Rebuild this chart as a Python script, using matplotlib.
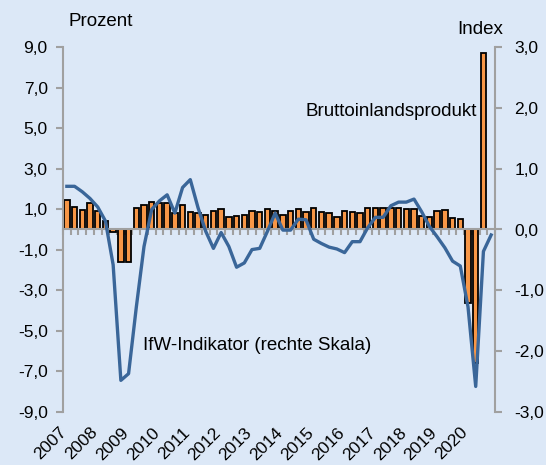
import numpy as np
import matplotlib
matplotlib.use('Agg')
import matplotlib.pyplot as plt
import matplotlib.transforms as mtransforms

plt.rcParams['font.family'] = ['Liberation Sans', 'DejaVu Sans']

# Jahre (Beschriftung der x-Achse)
years = ['2007', '2008', '2009', '2010', '2011', '2012', '2013',
         '2014', '2015', '2016', '2017', '2018', '2019', '2020']

# Bruttoinlandsprodukt, Prozent (linke Skala), 2007Q1 - 2020Q3
bip = [1.45, 1.1, 0.95, 1.3, 0.9, 0.4, -0.1, -1.6, -1.6, 1.05,
       1.2, 1.35, 1.3, 1.3, 0.8, 1.2, 0.85, 0.82, 0.72, 0.9,
       1.0, 0.6, 0.65, 0.7, 0.92, 0.85, 1.0, 0.93, 0.7, 0.93,
       1.02, 0.85, 1.05, 0.88, 0.8, 0.62, 0.93, 0.87, 0.8, 1.05,
       1.05, 1.05, 1.08, 1.04, 1.0, 1.0, 0.68, 0.62, 0.92, 0.95,
       0.56, 0.52, -3.6, -6.6, 8.7]

# IfW-Indikator, Index (rechte Skala), 2007Q1 - 2020Q4
ifw = [0.71, 0.71, 0.62, 0.51, 0.37, 0.14, -0.58, -2.48, -2.37, -1.28,
       -0.28, 0.33, 0.47, 0.57, 0.27, 0.69, 0.82, 0.36, -0.03, -0.31,
       -0.05, -0.28, -0.62, -0.55, -0.33, -0.31, -0.03, 0.27, -0.01, -0.01,
       0.17, 0.16, -0.16, -0.23, -0.29, -0.32, -0.38, -0.2, -0.2, 0.03,
       0.2, 0.2, 0.39, 0.45, 0.45, 0.5, 0.29, 0.05, -0.12, -0.3,
       -0.52, -0.6, -1.27, -2.58, -0.36, -0.09]

left_ticks = [-9, -7, -5, -3, -1, 1, 3, 5, 7, 9]
right_ticks = [-3, -2, -1, 0, 1, 2, 3]

bg = '#dce8f7'
grey = '#a0a0a0'
orange = '#f79646'
blue = '#3a6699'

fig = plt.figure(figsize=(5.46, 4.65), dpi=100, facecolor=bg)
ax = fig.add_axes([63 / 546, 53 / 465, 432 / 546, 365 / 465])
ax.set_facecolor(bg)

# Balken
x_bip = np.arange(len(bip))
ax.bar(x_bip, bip, width=0.7, color=orange, edgecolor='black', linewidth=1.3, zorder=2)
ax.set_xlim(-0.5, len(ifw) - 0.5)
ax.set_ylim(-9, 9)
ax.set_yticks(left_ticks)
ax.set_yticklabels([f'{v:.1f}'.replace('.', ',') for v in left_ticks], fontsize=12.5)

for s in ['top', 'right']:
    ax.spines[s].set_visible(False)
ax.spines['left'].set_color(grey)
ax.spines['left'].set_linewidth(1.5)
ax.spines['bottom'].set_position(('data', 0))
ax.spines['bottom'].set_color(grey)
ax.spines['bottom'].set_linewidth(1.5)
ax.set_xticks(np.arange(-0.5, len(ifw), 1))
ax.set_xticklabels([])
ax.tick_params(axis='x', direction='out', length=4, width=1.5, color=grey)
ax.tick_params(axis='y', direction='out', length=5, width=1.5, color=grey, pad=6)

# Linie
ax2 = ax.twinx()
x_ifw = np.arange(len(ifw))
ax2.plot(x_ifw, ifw, color=blue, linewidth=2.4, zorder=3)
ax2.set_ylim(-3, 3)
ax2.set_yticks(right_ticks)
ax2.set_yticklabels([f'{v:.1f}'.replace('.', ',') for v in right_ticks], fontsize=12.5)
for s in ['top', 'left', 'bottom']:
    ax2.spines[s].set_visible(False)
ax2.spines['right'].set_color(grey)
ax2.spines['right'].set_linewidth(1.5)
ax2.tick_params(axis='y', direction='out', length=5, width=1.5, color=grey, pad=9)

# Jahresbeschriftung
trans = mtransforms.blended_transform_factory(ax.transData, ax.transAxes)
for i, yr in enumerate(years):
    ax.text(4 * i - 1.0, -0.035, yr, transform=trans, rotation=45,
            ha='right', va='top', rotation_mode='anchor', fontsize=12.5)

fig.text(68 / 546, 1 - 22 / 465, 'Prozent', ha='left', va='center', fontsize=13.5)
fig.text(503 / 546, 1 - 30 / 465, 'Index', ha='right', va='center', fontsize=13.5)
fig.text(477 / 546, 1 - 111 / 465, 'Bruttoinlandsprodukt', ha='right', va='center', fontsize=13.5)
fig.text(143 / 546, 1 - 345 / 465, 'IfW-Indikator (rechte Skala)', ha='left', va='center', fontsize=13.5)

fig.savefig('out.png', dpi=100, facecolor=bg)
